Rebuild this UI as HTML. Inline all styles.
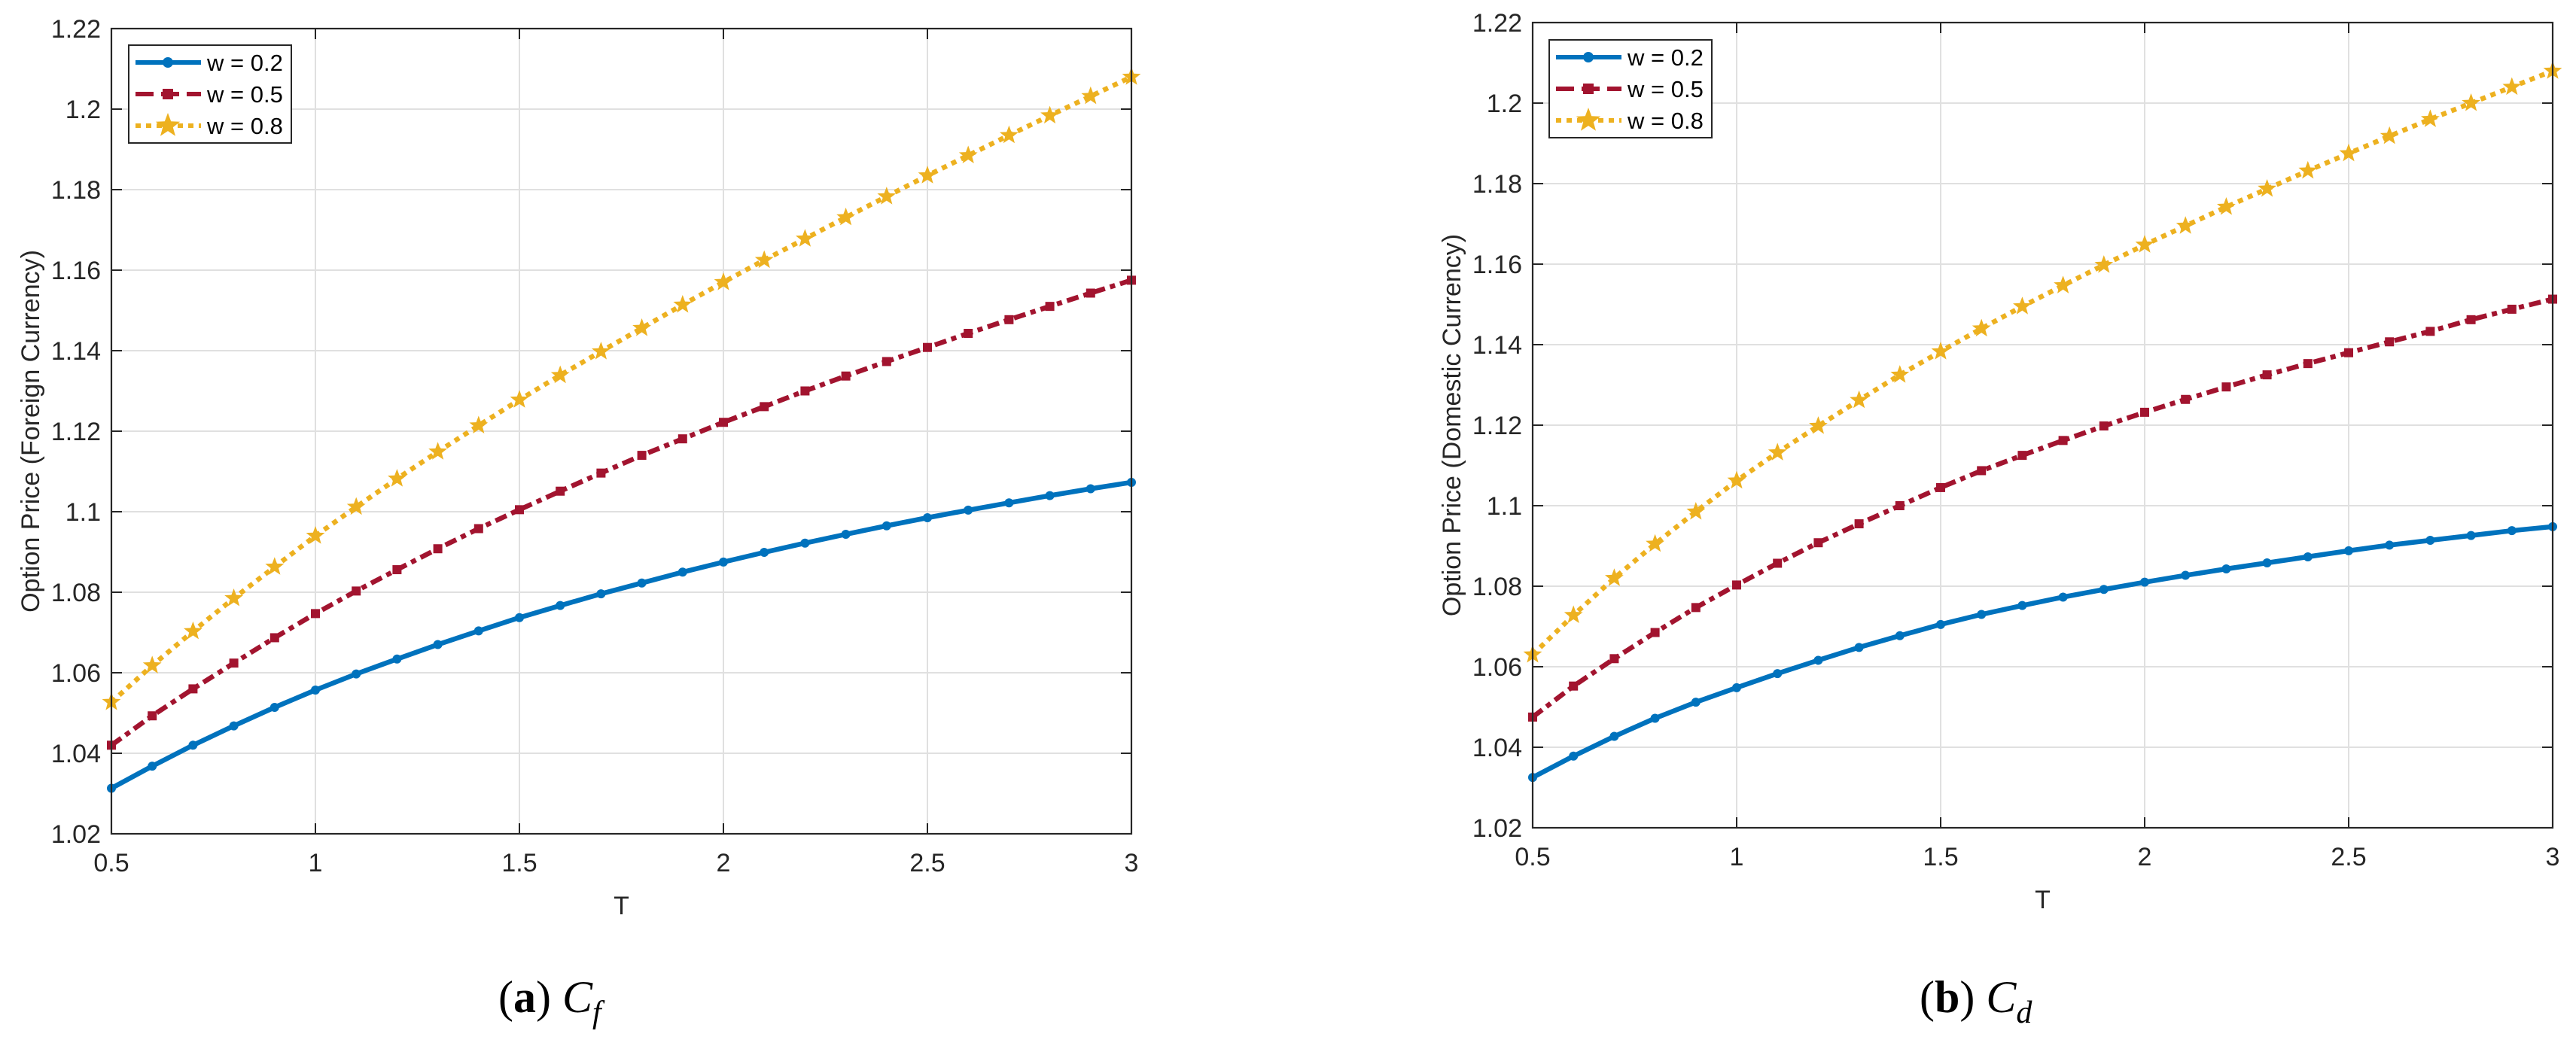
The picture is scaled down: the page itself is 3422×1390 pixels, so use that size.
<!DOCTYPE html>
<html><head><meta charset="utf-8"><style>
html,body{margin:0;padding:0;background:#fff;}
svg{display:block;font-family:"Liberation Sans",sans-serif;}
</style></head><body>
<svg id="chart" width="3422" height="1390" viewBox="0 0 3422 1390"></svg>
<script>
const T = [0.5,0.6,0.7,0.8,0.9,1.0,1.1,1.2,1.3,1.4,1.5,1.6,1.7,1.8,1.9,2.0,2.1,2.2,2.3,2.4,2.5,2.6,2.7,2.8,2.9,3.0];
const xTicks = [0.5,1,1.5,2,2.5,3];
const xTickLabels = ["0.5","1","1.5","2","2.5","3"];
const yTicks = [1.02,1.04,1.06,1.08,1.1,1.12,1.14,1.16,1.18,1.2,1.22];
const yTickLabels = ["1.02","1.04","1.06","1.08","1.1","1.12","1.14","1.16","1.18","1.2","1.22"];
const seriesNames = ["w = 0.2","w = 0.5","w = 0.8"];
const fBlue = [1.0313,1.0368,1.0420,1.0468,1.0514,1.0557,1.0597,1.0634,1.0670,1.0704,1.0737,1.0767,1.0796,1.0823,1.0850,1.0875,1.0899,1.0922,1.0944,1.0965,1.0985,1.1004,1.1022,1.1040,1.1057,1.1073];
const fRed = [1.0420,1.0493,1.0560,1.0624,1.0687,1.0747,1.0803,1.0856,1.0908,1.0958,1.1005,1.1051,1.1096,1.1140,1.1181,1.1222,1.1261,1.1300,1.1337,1.1373,1.1408,1.1443,1.1477,1.1510,1.1543,1.1575];
const fYellow = [1.0527,1.0618,1.0703,1.0785,1.0863,1.0940,1.1012,1.1082,1.1149,1.1214,1.1278,1.1339,1.1398,1.1456,1.1514,1.1570,1.1625,1.1678,1.1731,1.1783,1.1835,1.1885,1.1935,1.1984,1.2032,1.2080];
const dBlue = [1.0325,1.0378,1.0427,1.0472,1.0512,1.0548,1.0583,1.0616,1.0648,1.0677,1.0705,1.0730,1.0752,1.0773,1.0792,1.0810,1.0827,1.0843,1.0858,1.0873,1.0888,1.0902,1.0914,1.0926,1.0938,1.0948];
const dRed = [1.0475,1.0552,1.0620,1.0685,1.0747,1.0803,1.0857,1.0908,1.0955,1.1000,1.1045,1.1087,1.1125,1.1162,1.1198,1.1232,1.1264,1.1295,1.1325,1.1353,1.1380,1.1407,1.1433,1.1462,1.1488,1.1513];
const dYellow = [1.0630,1.0728,1.0820,1.0905,1.0985,1.1062,1.1132,1.1198,1.1262,1.1325,1.1383,1.1440,1.1495,1.1547,1.1598,1.1648,1.1695,1.1742,1.1787,1.1832,1.1875,1.1918,1.1960,1.2000,1.2040,1.2080];

const NS="http://www.w3.org/2000/svg";
const svg=document.getElementById('chart');
function mk(tag,attrs,parent){const e=document.createElementNS(NS,tag);for(const k in attrs)e.setAttribute(k,attrs[k]);(parent||svg).appendChild(e);return e;}
const COLORS=["#0072BD","#A2142F","#EDB120"];
const DASH=["none","16 7 7 7","7 7"];
function star(cx,cy,r){let p=[];for(let i=0;i<10;i++){const a=-Math.PI/2+i*Math.PI/5;const rr=i%2?r*0.42:r;p.push((cx+rr*Math.cos(a)).toFixed(1)+","+(cy+rr*Math.sin(a)).toFixed(1));}return p.join(" ");}
function marker(g,k,x,y,big){
  let m;
  if(k===0){m=mk('circle',{cx:x,cy:y,r:big?7:6,fill:COLORS[0]},g);}
  else if(k===1){const s=big?14:12;m=mk('rect',{x:x-s/2,y:y-s/2,width:s,height:s,fill:COLORS[1]},g);}
  else {m=mk('polygon',{points:star(x,y,big?17:13),fill:COLORS[2]},g);}
  
  
}
function panel(id,L,Tp,ylabel,data,caption,sub,leg){
  const W=1355,H=1070,R=L+W,B=Tp+H;
  const xs=v=>L+(v-0.5)/2.5*W, ys=v=>B-(v-1.02)/0.2*H;
  const g=mk('g',{});
  
  
  xTicks.forEach(t=>{const l=mk('line',{x1:xs(t),x2:xs(t),y1:Tp,y2:B,stroke:"#e0e0e0","stroke-width":2},g);});
  yTicks.forEach(t=>{const l=mk('line',{x1:L,x2:R,y1:ys(t),y2:ys(t),stroke:"#e0e0e0","stroke-width":2},g);});
  data.forEach((vals,k)=>{
    const pts=T.map((t,i)=>xs(t).toFixed(1)+","+ys(vals[i]).toFixed(1)).join(" ");
    const pl=mk('polyline',{points:pts,fill:"none",stroke:COLORS[k],"stroke-width":6.5,"stroke-dasharray":DASH[k],"stroke-linejoin":"round"},g);
    
    
    T.forEach((t,i)=>marker(g,k,xs(t),ys(vals[i]),false));
  });
  const bx=mk('rect',{x:L,y:Tp,width:W,height:H,fill:"none",stroke:"#262626","stroke-width":2.2},g);
  
  xTicks.forEach((t,i)=>{
    mk('line',{x1:xs(t),x2:xs(t),y1:B,y2:B-14,stroke:"#262626","stroke-width":2},g);
    mk('line',{x1:xs(t),x2:xs(t),y1:Tp,y2:Tp+14,stroke:"#262626","stroke-width":2},g);
    const tx=mk('text',{x:xs(t),y:B+50,"text-anchor":"middle","font-size":34,fill:"#262626"},g);
    tx.textContent=xTickLabels[i];
    
  });
  yTicks.forEach((t,i)=>{
    mk('line',{x1:L,x2:L+14,y1:ys(t),y2:ys(t),stroke:"#262626","stroke-width":2},g);
    mk('line',{x1:R,x2:R-14,y1:ys(t),y2:ys(t),stroke:"#262626","stroke-width":2},g);
    const tx=mk('text',{x:L-14,y:ys(t)+12,"text-anchor":"end","font-size":34,fill:"#262626"},g);
    tx.textContent=yTickLabels[i];
    
  });
  const xl=mk('text',{x:(L+R)/2,y:B+107,"text-anchor":"middle","font-size":34,fill:"#262626"},g);
  xl.textContent="T";
  const yl=mk('text',{x:0,y:0,"text-anchor":"middle","font-size":34,fill:"#262626",transform:`translate(${L-96},${(Tp+B)/2}) rotate(-90)`},g);
  yl.textContent=ylabel;
  const lg=mk('g',{},g);
  
  mk('rect',{x:leg[0],y:leg[1],width:216,height:130,fill:"#fff",stroke:"#262626","stroke-width":2},lg);
  seriesNames.forEach((n,k)=>{
    const yy=leg[1]+23+k*42;
    const e=mk('g',{},lg);
    
    mk('line',{x1:leg[0]+9,x2:leg[0]+96,y1:yy,y2:yy,stroke:COLORS[k],"stroke-width":6,"stroke-dasharray":k===1?"24 10":(k===2?"7 7":"none")},e);
    marker(e,k,leg[0]+52,yy,true);
    const t=mk('text',{x:leg[0]+104,y:yy+11,"font-size":31,fill:"#000"},e);t.textContent=n;
  });
  const cap=mk('text',{x:sub[0],y:sub[1],"font-size":60,fill:"#000","font-family":"Liberation Serif, serif"},svg);
  
  const a=mk('tspan',{},cap);a.textContent="(";
  const b=mk('tspan',{"font-weight":"bold"},cap);b.textContent=caption;
  const c=mk('tspan',{},cap);c.textContent=") ";
  const d=mk('tspan',{"font-style":"italic"},cap);d.textContent="C";
  const e2=mk('tspan',{"font-style":"italic","font-size":42,dy:14},cap);e2.textContent=sub[2];
}
panel('foreign',148,38,"Option Price (Foreign Currency)",[fBlue,fRed,fYellow],"a",[662,1345,"f"],[171,60]);
panel('domestic',2036,30,"Option Price (Domestic Currency)",[dBlue,dRed,dYellow],"b",[2550,1345,"d"],[2058,53]);
</script>
</body></html>
